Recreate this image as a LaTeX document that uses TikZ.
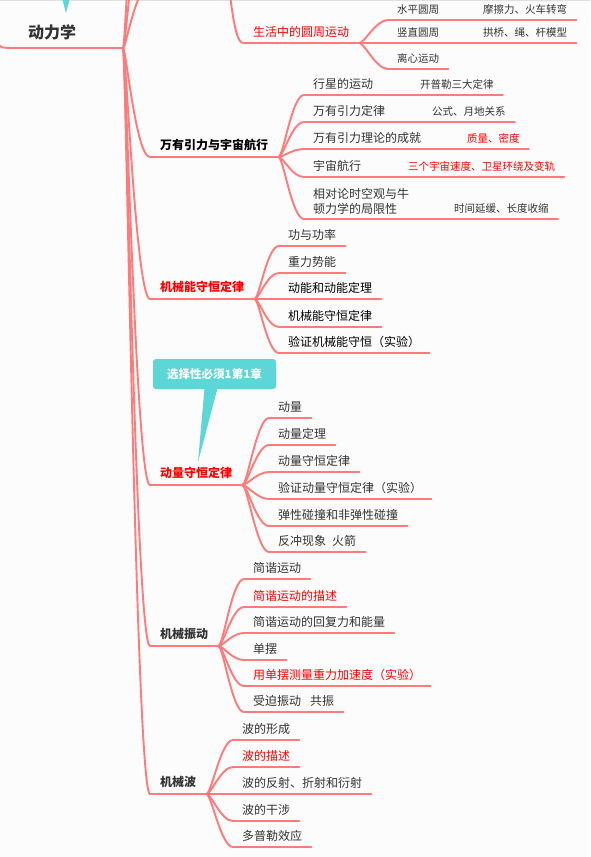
\documentclass[tikz,border=0pt]{standalone}
\usepackage{fontspec}
\setmainfont{Noto Sans CJK SC}

\definecolor{linered}{RGB}{255,122,122}
\definecolor{ink}{RGB}{51,51,51}
\definecolor{notecyan}{RGB}{92,214,214}
\definecolor{paper}{RGB}{252,252,252}

\begin{document}
\begin{tikzpicture}[x=1pt, y=-1pt]
    \tikzset{link/.style={draw=linered, line width=1.9pt, line cap=round, line join=round}}
    \tikzset{topic/.style={anchor=south west, inner xsep=10pt, inner ysep=5.5pt, text height=9pt, text depth=1.5pt, font=\bfseries\fontsize{12}{15}\selectfont}}
    \tikzset{sub/.style={anchor=south west, inner xsep=9pt, inner ysep=4.5pt, text height=9pt, text depth=1.5pt, text=ink, align=left, font=\fontsize{12}{15}\selectfont}}
    \tikzset{detail/.style={sub, font=\fontsize{10.5}{13}\selectfont}}
    \tikzset{notebox/.style={fill=notecyan, rounded corners=3pt, minimum width=123pt, minimum height=30pt, text=white, font=\bfseries\fontsize{11.5}{13}\selectfont}}

    \useasboundingbox (0,0) rectangle (590,857);
    \clip (0,0) rectangle (590,857);
    \fill[paper] (0,0) rectangle (590,857);
    \draw[black!12, line width=1pt] (0,0.5) -- (590,0.5);

    % ── ROOT ─────────────────────────────────────────────
    \fill[notecyan] (62,-2) -- (70,-2) -- (66,13) -- cycle;
    \node[topic, text=ink, inner ysep=7pt, text height=12pt, text depth=2pt, font=\bfseries\fontsize{16}{18}\selectfont] (root) at (18,48) {动力学};
    \coordinate (hub) at (123,48);
    \draw[link] (-4,41) .. controls (0,48) .. (root.south west) -- (hub);

    % rami sopra il bordo
    \foreach \yy [count=\i] in {-15,-110,-260} {
        \coordinate (up\i) at (150,\yy);
        \draw[link] (hub) .. controls +(3,0) and +(-14,0) .. (up\i);
    }

    % ── 生活中的圆周运动 ─────────────────────────────────
    \coordinate (circhub) at (221,-80);
    \node[sub, inner xsep=10pt, text=red] (circ) at (243,43) {生活中的圆周运动};
    \draw[link] (circhub) .. controls +(5,0) and +(-14,0) .. (circ.south west) -- (circ.south east);
    \foreach \txt/\yy [count=\i] in {水平圆周/20, 竖直圆周/43, 离心运动/69} {
        \node[detail] (c\i) at (388,\yy) {\txt};
        \draw[link] (circ.south east) .. controls +(5,0) and +(-12,0) .. (c\i.south west) -- (c\i.south east);
    }
    \foreach \txt/\yy [count=\i] in {摩擦力、火车转弯/20, 拱桥、绳、杆模型/43} {
        \node[detail] (cc\i) at (474,\yy) {\txt};
        \draw[link] (c\i.south east) -- (cc\i.south west) -- (cc\i.south east);
    }

    % ── 万有引力与宇宙航行 ───────────────────────────────
    \node[topic, text=black] (grav) at (150,157) {万有引力与宇宙航行};
    \draw[link] (hub) .. controls +(3,0) and +(-14,0) .. (grav.south west) -- (grav.south east);
    \foreach \txt/\yy/\gtxt/\gx/\gcol [count=\i] in {行星的运动/95/开普勒三大定律/411/ink, 万有引力定律/122/公式、月地关系/423/ink, 万有引力理论的成就/149/质量、密度/458/red, 宇宙航行/177/三个宇宙速度、卫星环绕及变轨/399/red} {
        \node[sub] (g\i) at (304,\yy) {\txt};
        \node[detail, text=\gcol] (gg\i) at (\gx,\yy) {\gtxt};
        \draw[link] (grav.south east) .. controls +(5,0) and +(-12,0) .. (g\i.south west) -- (g\i.south east) -- (gg\i.south west) -- (gg\i.south east);
    }
    \node[sub, text height={}, text depth={}] (g5) at (304,219) {相对论时空观与牛\\顿力学的局限性};
    \node[detail] (gg5) at (445,219) {时间延缓、长度收缩};
    \draw[link] (grav.south east) .. controls +(5,0) and +(-12,0) .. (g5.south west) -- (g5.south east) -- (gg5.south west) -- (gg5.south east);

    % ── 机械能守恒定律 ───────────────────────────────────
    \node[topic, text=red] (energy) at (150,299) {机械能守恒定律};
    \draw[link] (hub) .. controls +(3,0) and +(-14,0) .. (energy.south west) -- (energy.south east);
    \foreach \txt/\yy/\col [count=\i] in {功与功率/246/ink, 重力势能/273/ink, 动能和动能定理/299/black, 机械能守恒定律/327/black, 验证机械能守恒（实验）/353/black} {
        \node[sub, text=\col] (e\i) at (279,\yy) {\txt};
        \draw[link] (energy.south east) .. controls +(5,0) and +(-12,0) .. (e\i.south west) -- (e\i.south east);
    }

    % ── 动量守恒定律 ─────────────────────────────────────
    \node[topic, text=red] (mom) at (150,485) {动量守恒定律};
    \draw[link] (hub) .. controls +(3,0) and +(-14,0) .. (mom.south west) -- (mom.south east);
    \foreach \txt/\yy [count=\i] in {动量/418, 动量定理/445, 动量守恒定律/472, 验证动量守恒定律（实验）/499, 弹性碰撞和非弹性碰撞/526, 反冲现象\hspace{6pt}火箭/552} {
        \node[sub] (m\i) at (269,\yy) {\txt};
        \draw[link] (mom.south east) .. controls +(5,0) and +(-12,0) .. (m\i.south west) -- (m\i.south east);
    }

    % nota
    \node[notebox] (note) at (214.5,374) {选择性必须1第1章};
    \coordinate (notetip) at (198,462);
    \fill[notecyan] ([xshift=-10pt, yshift=1pt]note.south) -- ([xshift=3pt, yshift=1pt]note.south) -- (notetip) -- cycle;

    % ── 机械振动 ─────────────────────────────────────────
    \node[topic, text=ink] (vib) at (150,646) {机械振动};
    \draw[link] (hub) .. controls +(3,0) and +(-14,0) .. (vib.south west) -- (vib.south east);
    \foreach \txt/\yy/\col [count=\i] in {简谐运动/579/ink, 简谐运动的描述/607/red, 简谐运动的回复力和能量/633/ink, 单摆/660/ink, 用单摆测量重力加速度（实验）/686/red, 受迫振动\hspace{9pt}共振/712/ink} {
        \node[sub, text=\col] (v\i) at (244,\yy) {\txt};
        \draw[link] (vib.south east) .. controls +(5,0) and +(-12,0) .. (v\i.south west) -- (v\i.south east);
    }

    % ── 机械波 ───────────────────────────────────────────
    \node[topic, text=ink] (wave) at (150,794) {机械波};
    \draw[link] (hub) .. controls +(3,0) and +(-14,0) .. (wave.south west) -- (wave.south east);
    \foreach \txt/\yy/\col [count=\i] in {波的形成/740/ink, 波的描述/767/red, 波的反射、折射和衍射/794/ink, 波的干涉/821/ink, 多普勒效应/847/ink} {
        \node[sub, text=\col] (w\i) at (233,\yy) {\txt};
        \draw[link] (wave.south east) .. controls +(5,0) and +(-12,0) .. (w\i.south west) -- (w\i.south east);
    }

\end{tikzpicture}
\end{document}
